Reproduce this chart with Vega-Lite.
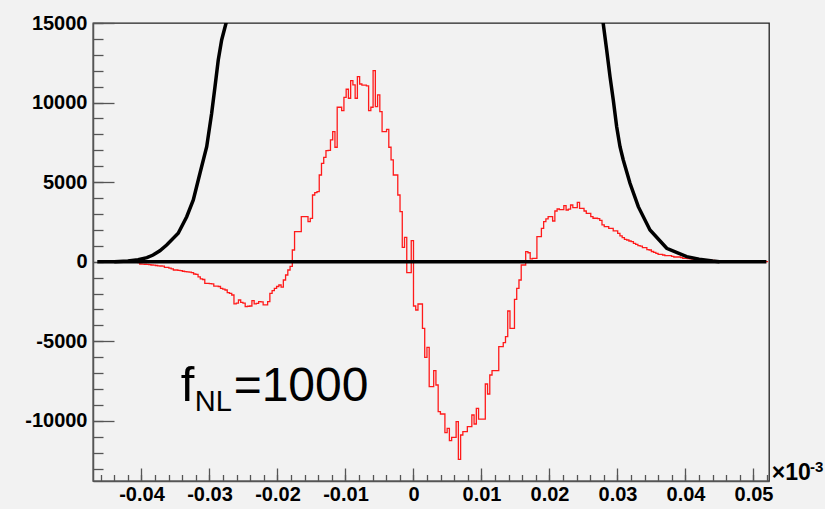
{
  "$schema": "https://vega.github.io/schema/vega-lite/v6.json",
  "width": 676,
  "height": 458,
  "autosize": {"type": "none"},
  "padding": {"left": 93, "top": 23, "right": 56, "bottom": 28},
  "background": "#f2f2f2",
  "view": {"stroke": "#222222", "strokeWidth": 1.3, "fill": "#f2f2f2"},
  "config": {"axis": {"grid": false, "title": null, "labelFlush": false, "labelOverlap": false, "labelBound": false}},
  "datasets": {
    "red": [
      {"x":-0.04059,"v":-60},{"x":-0.04026,"v":-145},{"x":-0.03993,"v":-150},{"x":-0.0396,"v":-160},{"x":-0.03927,"v":-170},{"x":-0.03894,"v":-190},{"x":-0.03861,"v":-208},{"x":-0.03828,"v":-220},{"x":-0.03795,"v":-240},{"x":-0.03762,"v":-260},{"x":-0.03729,"v":-270},{"x":-0.03696,"v":-280},{"x":-0.03663,"v":-354},{"x":-0.0363,"v":-354},{"x":-0.03597,"v":-400},{"x":-0.03564,"v":-450},{"x":-0.03531,"v":-522},{"x":-0.03498,"v":-522},{"x":-0.03465,"v":-540},{"x":-0.03432,"v":-560},{"x":-0.03399,"v":-600},{"x":-0.03366,"v":-626},{"x":-0.03333,"v":-640},{"x":-0.033,"v":-650},{"x":-0.03267,"v":-690},{"x":-0.03234,"v":-773},{"x":-0.03201,"v":-800},{"x":-0.03168,"v":-960},{"x":-0.03135,"v":-1080},{"x":-0.03102,"v":-1120},{"x":-0.03069,"v":-1360},{"x":-0.03036,"v":-1360},{"x":-0.03003,"v":-1380},{"x":-0.0297,"v":-1400},{"x":-0.02937,"v":-1530},{"x":-0.02904,"v":-1540},{"x":-0.02871,"v":-1560},{"x":-0.02838,"v":-1675},{"x":-0.02805,"v":-1720},{"x":-0.02772,"v":-1780},{"x":-0.02739,"v":-1940},{"x":-0.02706,"v":-1990},{"x":-0.02673,"v":-2093},{"x":-0.0264,"v":-2650},{"x":-0.02607,"v":-2600},{"x":-0.02574,"v":-2407},{"x":-0.02541,"v":-2560},{"x":-0.02508,"v":-2600},{"x":-0.02475,"v":-2828},{"x":-0.02442,"v":-2800},{"x":-0.02409,"v":-2786},{"x":-0.02376,"v":-2450},{"x":-0.02343,"v":-2650},{"x":-0.0231,"v":-2620},{"x":-0.02277,"v":-2510},{"x":-0.02244,"v":-2520},{"x":-0.02211,"v":-2720},{"x":-0.02178,"v":-2720},{"x":-0.02145,"v":-2510},{"x":-0.02112,"v":-1990},{"x":-0.02079,"v":-1820},{"x":-0.02046,"v":-1675},{"x":-0.02013,"v":-1560},{"x":-0.0198,"v":-1464},{"x":-0.01947,"v":-1600},{"x":-0.01914,"v":-1150},{"x":-0.01881,"v":-836},{"x":-0.01848,"v":-522},{"x":-0.01815,"v":-300},
      {"x":-0.01782,"v":735},{"x":-0.01749,"v":1886},{"x":-0.01716,"v":1886},{"x":-0.01683,"v":1886},{"x":-0.0165,"v":2828},{"x":-0.01617,"v":2828},{"x":-0.01584,"v":2828},{"x":-0.01551,"v":2514},{"x":-0.01518,"v":2720},{"x":-0.01485,"v":4192},{"x":-0.01452,"v":4338},{"x":-0.01419,"v":4400},{"x":-0.01386,"v":5449},{"x":-0.01353,"v":6184},{"x":-0.0132,"v":6561},{"x":-0.01287,"v":6977},{"x":-0.01254,"v":7000},{"x":-0.01221,"v":7649},{"x":-0.01188,"v":8170},{"x":-0.01155,"v":7190},{"x":-0.01122,"v":9704},{"x":-0.01089,"v":9704},{"x":-0.01056,"v":9494},{"x":-0.01023,"v":10332},{"x":-0.0099,"v":10835},{"x":-0.00957,"v":10270},{"x":-0.00924,"v":11376},{"x":-0.00891,"v":11106},{"x":-0.00858,"v":10270},{"x":-0.00825,"v":11628},{"x":-0.00792,"v":11168},{"x":-0.00759,"v":11100},{"x":-0.00726,"v":11100},{"x":-0.00693,"v":11050},{"x":-0.0066,"v":9491},{"x":-0.00627,"v":9704},{"x":-0.00594,"v":12004},{"x":-0.00561,"v":9742},{"x":-0.00528,"v":10477},{"x":-0.00495,"v":9428},{"x":-0.00462,"v":8170},{"x":-0.00429,"v":8170},{"x":-0.00396,"v":8321},{"x":-0.00363,"v":7190},{"x":-0.0033,"v":6392},{"x":-0.00297,"v":5449},{"x":-0.00264,"v":5449},{"x":-0.00231,"v":4192},{"x":-0.00198,"v":3143},{"x":-0.00165,"v":905},{"x":-0.00132,"v":1533},{"x":-0.00099,"v":-691},{"x":-0.00066,"v":-691},{"x":-0.00033,"v":1320},
      {"x":0,"v":-2784},{"x":0.00033,"v":-3036},{"x":0.00066,"v":-2659},{"x":0.00099,"v":-2659},{"x":0.00132,"v":-4186},{"x":0.00165,"v":-6009},{"x":0.00198,"v":-5380},{"x":0.00231,"v":-7856},{"x":0.00264,"v":-7856},{"x":0.00297,"v":-6851},{"x":0.0033,"v":-7750},{"x":0.00363,"v":-9428},{"x":0.00396,"v":-9573},{"x":0.00429,"v":-9573},{"x":0.00462,"v":-10747},{"x":0.00495,"v":-10471},{"x":0.00528,"v":-11250},{"x":0.00561,"v":-11036},{"x":0.00594,"v":-11036},{"x":0.00627,"v":-10056},{"x":0.0066,"v":-12419},{"x":0.00693,"v":-10892},{"x":0.00726,"v":-10684},{"x":0.00759,"v":-10684},{"x":0.00792,"v":-10370},{"x":0.00825,"v":-10370},{"x":0.00858,"v":-9635},{"x":0.00891,"v":-10201},{"x":0.00924,"v":-9214},{"x":0.00957,"v":-9900},{"x":0.0099,"v":-9900},{"x":0.01023,"v":-9900},{"x":0.01056,"v":-7687},{"x":0.01089,"v":-8315},{"x":0.01122,"v":-7121},{"x":0.01155,"v":-6851},{"x":0.01188,"v":-6851},{"x":0.01221,"v":-6851},{"x":0.01254,"v":-5342},{"x":0.01287,"v":-5342},{"x":0.0132,"v":-5091},{"x":0.01353,"v":-4714},{"x":0.01386,"v":-3099},{"x":0.01419,"v":-4186},{"x":0.01452,"v":-4186},{"x":0.01485,"v":-2363},{"x":0.01518,"v":-1672},{"x":0.01551,"v":-1150},{"x":0.01584,"v":-207},{"x":0.01617,"v":-207},{"x":0.0165,"v":628},{"x":0.01683,"v":560},{"x":0.01716,"v":180},{"x":0.01749,"v":213},{"x":0.01782,"v":213},
      {"x":0.01815,"v":1571},{"x":0.01848,"v":1571},{"x":0.01881,"v":2099},{"x":0.01914,"v":2514},{"x":0.01947,"v":2684},{"x":0.0198,"v":2828},{"x":0.02013,"v":2828},{"x":0.02046,"v":2558},{"x":0.02079,"v":3186},{"x":0.02112,"v":3312},{"x":0.02145,"v":3270},{"x":0.02178,"v":3270},{"x":0.02211,"v":3520},{"x":0.02244,"v":3249},{"x":0.02277,"v":3300},{"x":0.0231,"v":3563},{"x":0.02343,"v":3394},{"x":0.02376,"v":3394},{"x":0.02409,"v":3730},{"x":0.02442,"v":3356},{"x":0.02475,"v":3356},{"x":0.02508,"v":3186},{"x":0.02541,"v":3042},{"x":0.02574,"v":3042},{"x":0.02607,"v":2828},{"x":0.0264,"v":2728},{"x":0.02673,"v":2728},{"x":0.02706,"v":2700},{"x":0.02739,"v":2600},{"x":0.02772,"v":2307},{"x":0.02805,"v":2200},{"x":0.02838,"v":2200},{"x":0.02871,"v":2099},{"x":0.02904,"v":2099},{"x":0.02937,"v":1930},{"x":0.0297,"v":1930},{"x":0.03003,"v":1785},{"x":0.03036,"v":1620},{"x":0.03069,"v":1508},{"x":0.03102,"v":1400},{"x":0.03135,"v":1364},{"x":0.03168,"v":1300},{"x":0.03201,"v":1257},{"x":0.03234,"v":1150},{"x":0.03267,"v":1094},{"x":0.033,"v":1006},{"x":0.03333,"v":980},{"x":0.03366,"v":880},{"x":0.03399,"v":880},{"x":0.03432,"v":760},{"x":0.03465,"v":735},{"x":0.03498,"v":640},{"x":0.03531,"v":591},{"x":0.03564,"v":520},{"x":0.03597,"v":465},{"x":0.0363,"v":465},{"x":0.03663,"v":420},{"x":0.03696,"v":377},{"x":0.03729,"v":377},{"x":0.03762,"v":377},{"x":0.03795,"v":330},{"x":0.03828,"v":295},{"x":0.03861,"v":295},{"x":0.03894,"v":295},{"x":0.03927,"v":250},{"x":0.0396,"v":213},{"x":0.03993,"v":213},{"x":0.04026,"v":200},{"x":0.04059,"v":180},{"x":0.04092,"v":170},{"x":0.04125,"v":150},{"x":0.04158,"v":140},{"x":0.04191,"v":130},{"x":0.04224,"v":120},{"x":0.04257,"v":110},{"x":0.0429,"v":100},{"x":0.04323,"v":90},{"x":0.04356,"v":85},{"x":0.04389,"v":80},{"x":0.04422,"v":70},{"x":0.04455,"v":65},{"x":0.04488,"v":60},{"x":0.04521,"v":55},{"x":0.04554,"v":50},{"x":0.04587,"v":45},{"x":0.0462,"v":40},{"x":0.04653,"v":38},{"x":0.04686,"v":35},{"x":0.04719,"v":30},{"x":0.04752,"v":28},{"x":0.04785,"v":25},{"x":0.04818,"v":22},{"x":0.04851,"v":20},{"x":0.04884,"v":18},{"x":0.04917,"v":15},{"x":0.0495,"v":14},{"x":0.04983,"v":12},{"x":0.05016,"v":10},{"x":0.05049,"v":9},{"x":0.05082,"v":8},{"x":0.05115,"v":7},{"x":0.05148,"v":6},{"x":0.05181,"v":5},{"x":0.05214,"v":5}
    ],
    "black": [
      {"seg":"L","x":-0.044,"v":0},{"seg":"L","x":-0.042,"v":40},{"seg":"L","x":-0.0405,"v":120},{"seg":"L","x":-0.0392,"v":250},{"seg":"L","x":-0.0383,"v":420},{"seg":"L","x":-0.0373,"v":680},{"seg":"L","x":-0.0363,"v":1050},{"seg":"L","x":-0.0346,"v":1785},{"seg":"L","x":-0.03335,"v":2828},{"seg":"L","x":-0.03238,"v":3878},{"seg":"L","x":-0.0314,"v":5556},{"seg":"L","x":-0.03041,"v":7228},{"seg":"L","x":-0.02968,"v":9327},{"seg":"L","x":-0.02919,"v":10999},{"seg":"L","x":-0.02871,"v":12677},{"seg":"L","x":-0.02821,"v":13935},{"seg":"L","x":-0.02757,"v":14984},{"seg":"L","x":-0.0268,"v":16250},{"seg":"L","x":-0.0262,"v":17500},
      {"seg":"R","x":0.0271,"v":17800},{"seg":"R","x":0.0276,"v":15950},{"seg":"R","x":0.02791,"v":14940},{"seg":"R","x":0.02841,"v":13305},{"seg":"R","x":0.0289,"v":11628},{"seg":"R","x":0.02938,"v":10163},{"seg":"R","x":0.02988,"v":8485},{"seg":"R","x":0.03037,"v":7228},{"seg":"R","x":0.03085,"v":6392},{"seg":"R","x":0.03184,"v":4927},{"seg":"R","x":0.03306,"v":3457},{"seg":"R","x":0.03478,"v":1992},{"seg":"R","x":0.03724,"v":842},{"seg":"R","x":0.04018,"v":314},{"seg":"R","x":0.042,"v":150},{"seg":"R","x":0.044,"v":40},{"seg":"R","x":0.045,"v":0}
    ],
    "zero": [{"x":-0.0465,"v":0},{"x":0.0519,"v":0}]
  },
  "layer": [
    {
      "data": {"name": "red"},
      "mark": {"type": "line", "interpolate": "step-after", "color": "#ff1a1a", "strokeWidth": 1.3, "clip": true},
      "encoding": {
        "x": {"field": "x", "type": "quantitative", "scale": {"domain": [-0.04713, 0.05228], "nice": false, "zero": false},
          "axis": {"orient": "bottom", "values": [-0.04,-0.03,-0.02,-0.01,0,0.01,0.02,0.03,0.04,0.05], "format": ".2~f", "labelExpr": "replace(datum.label, '−', '-')", "ticks": false, "domain": true, "domainColor": "#555555", "domainWidth": 1.5, "labelFont": "Liberation Sans", "labelFontWeight": "bold", "labelFontSize": 20, "labelColor": "#000000", "labelPadding": 3, "title": null}},
        "y": {"field": "v", "type": "quantitative", "scale": {"domain": [-13783, 15000], "nice": false, "zero": false},
          "axis": {"orient": "left", "values": [-10000,-5000,0,5000,10000,15000], "format": "d", "labelExpr": "replace(datum.label, '−', '-')", "ticks": false, "domain": true, "domainColor": "#555555", "domainWidth": 1.5, "labelFont": "Liberation Sans", "labelFontWeight": "bold", "labelFontSize": 20, "labelColor": "#000000", "labelPadding": 6, "title": null}}
      }
    },
    {
      "data": {"name": "black"},
      "mark": {"type": "line", "color": "#000000", "strokeWidth": 3.5, "clip": true},
      "encoding": {
        "x": {"field": "x", "type": "quantitative", "scale": {"domain": [-0.04713, 0.05228], "nice": false, "zero": false},
          "axis": {"orient": "bottom", "values": [-0.04,-0.03,-0.02,-0.01,0,0.01,0.02,0.03,0.04,0.05], "labels": false, "domain": false, "ticks": true, "tickSize": -13, "tickColor": "#555555", "tickWidth": 1.3, "title": null}},
        "y": {"field": "v", "type": "quantitative", "scale": {"domain": [-13783, 15000], "nice": false, "zero": false},
          "axis": {"orient": "left", "values": [-10000,-5000,0,5000,10000,15000], "labels": false, "domain": false, "ticks": true, "tickSize": -21, "tickColor": "#555555", "tickWidth": 1.3, "title": null}},
        "detail": {"field": "seg", "type": "nominal"}
      }
    },
    {
      "data": {"name": "zero"},
      "mark": {"type": "line", "color": "#000000", "strokeWidth": 3.5, "clip": true},
      "encoding": {
        "x": {"field": "x", "type": "quantitative", "scale": {"domain": [-0.04713, 0.05228], "nice": false, "zero": false},
          "axis": {"orient": "bottom", "values": [-0.046,-0.044,-0.042,-0.04,-0.038,-0.036,-0.034,-0.032,-0.03,-0.028,-0.026,-0.024,-0.022,-0.02,-0.018,-0.016,-0.014,-0.012,-0.01,-0.008,-0.006,-0.004,-0.002,0,0.002,0.004,0.006,0.008,0.01,0.012,0.014,0.016,0.018,0.02,0.022,0.024,0.026,0.028,0.03,0.032,0.034,0.036,0.038,0.04,0.042,0.044,0.046,0.048,0.05,0.052], "labels": false, "domain": false, "ticks": true, "tickSize": -6.5, "tickColor": "#555555", "tickWidth": 1.3, "title": null}},
        "y": {"field": "v", "type": "quantitative", "scale": {"domain": [-13783, 15000], "nice": false, "zero": false},
          "axis": {"orient": "left", "values": [-13000,-12000,-11000,-10000,-9000,-8000,-7000,-6000,-5000,-4000,-3000,-2000,-1000,0,1000,2000,3000,4000,5000,6000,7000,8000,9000,10000,11000,12000,13000,14000,15000], "labels": false, "domain": false, "ticks": true, "tickSize": -10, "tickColor": "#555555", "tickWidth": 1.3, "title": null}}
      }
    },
    {
      "data": {"values": [{}]},
      "mark": {"type": "text", "text": "f", "font": "Liberation Sans", "fontSize": 49, "align": "left", "baseline": "alphabetic", "color": "#000000"},
      "encoding": {"x": {"datum": -0.03424, "type": "quantitative", "axis": null}, "y": {"datum": -8755, "type": "quantitative", "axis": null}}
    },
    {
      "data": {"values": [{}]},
      "mark": {"type": "text", "text": "NL", "font": "Liberation Sans", "fontSize": 29, "align": "left", "baseline": "alphabetic", "color": "#000000"},
      "encoding": {"x": {"datum": -0.03215, "type": "quantitative", "axis": null}, "y": {"datum": -9384, "type": "quantitative", "axis": null}}
    },
    {
      "data": {"values": [{}]},
      "mark": {"type": "text", "text": "=1000", "font": "Liberation Sans", "fontSize": 48, "align": "left", "baseline": "alphabetic", "color": "#000000"},
      "encoding": {"x": {"datum": -0.02645, "type": "quantitative", "axis": null}, "y": {"datum": -8755, "type": "quantitative", "axis": null}}
    },
    {
      "data": {"values": [{}]},
      "mark": {"type": "text", "text": "×10", "font": "Liberation Sans", "fontWeight": "bold", "fontSize": 23, "align": "left", "baseline": "alphabetic", "color": "#000000"},
      "encoding": {"x": {"datum": 0.0527, "type": "quantitative", "axis": null}, "y": {"datum": -13750, "type": "quantitative", "axis": null}}
    },
    {
      "data": {"values": [{}]},
      "mark": {"type": "text", "text": "-3", "font": "Liberation Sans", "fontWeight": "bold", "fontSize": 15, "align": "left", "baseline": "alphabetic", "color": "#000000"},
      "encoding": {"x": {"datum": 0.0583, "type": "quantitative", "axis": null}, "y": {"datum": -13199, "type": "quantitative", "axis": null}}
    }
  ],
  "resolve": {"axis": {"x": "independent", "y": "independent"}}
}
